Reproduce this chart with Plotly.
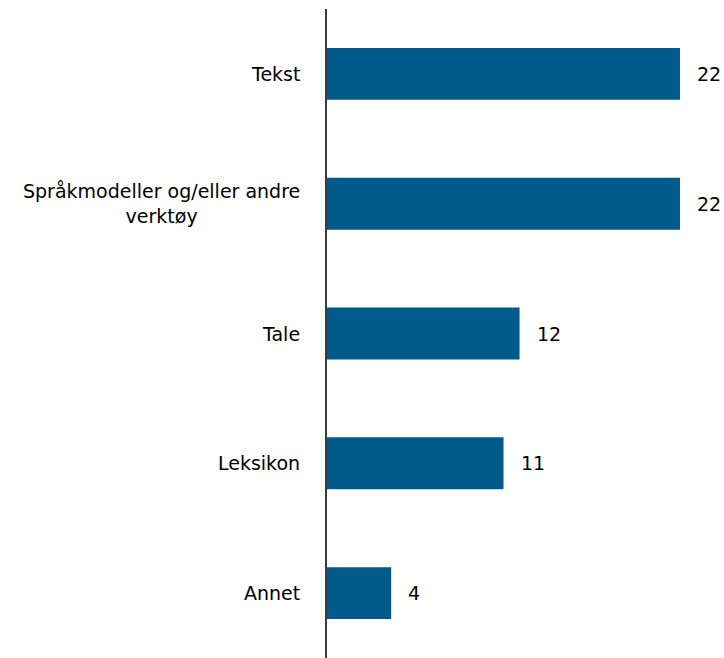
import plotly.graph_objects as go

# Categories (top to bottom) and their counts
categories = ["Tekst", "Språkmodeller og/eller andre<br>verktøy", "Tale", "Leksikon", "Annet"]
values = [22, 22, 12, 11, 4]

bar_color = "#005a8c"
font_family = "'DejaVu Sans', Lato, sans-serif"

fig = go.Figure(
    go.Bar(
        x=values,
        y=categories,
        orientation="h",
        marker=dict(color=bar_color, line=dict(width=0)),
        width=0.4,
        hoverinfo="skip",
    )
)

# Value labels to the right of each bar
for cat, val in zip(categories, values):
    fig.add_annotation(
        x=val, y=cat, xref="x", yref="y",
        text=str(val), showarrow=False,
        xanchor="left", yanchor="middle", xshift=15,
        font=dict(family=font_family, size=19, color="#000000"),
    )

# Category labels left of the axis, multi-line ones centred
for cat in categories:
    fig.add_annotation(
        x=0, y=cat, xref="paper", yref="y",
        text=cat, showarrow=False,
        xanchor="right", yanchor="middle", xshift=-25,
        align="center",
        font=dict(family=font_family, size=19, color="#000000"),
    )

fig.update_layout(
    width=724, height=658,
    margin=dict(l=327, r=0, t=9, b=0),
    paper_bgcolor="white", plot_bgcolor="white",
    showlegend=False,
    xaxis=dict(range=[0, 24.74], visible=False, fixedrange=True),
    yaxis=dict(
        autorange="reversed",
        showticklabels=False, ticks="",
        showline=True, linecolor="#3c3c3c", linewidth=2,
        showgrid=False, zeroline=False, fixedrange=True,
    ),
)

fig.write_html("out.html")
